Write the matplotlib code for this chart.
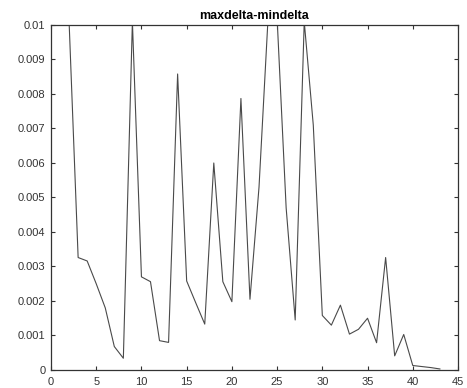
import matplotlib
matplotlib.use("Agg")
import matplotlib.pyplot as plt

# data (index vs maxdelta-mindelta)
x_idx = list(range(2, 44))
delta = [
    0.0101, 0.00326, 0.00316, 0.0025, 0.0018, 0.00068, 0.00034, 0.0101,   # 2-9
    0.0027, 0.00256, 0.00085, 0.0008, 0.00858, 0.00258, 0.00195, 0.00133,  # 10-17
    0.0060, 0.00256, 0.00198, 0.00787, 0.00205, 0.0053, 0.0102, 0.0102,    # 18-25
    0.0047, 0.00145, 0.0101, 0.0071, 0.00158, 0.0013, 0.00188, 0.00104,    # 26-33
    0.00118, 0.0015, 0.00079, 0.00326, 0.00041, 0.00103, 0.00013, 0.0001,  # 34-41
    0.00007, 0.00003,                                                      # 42-43
]

x_ticks = list(range(0, 46, 5))
y_ticks = [i / 1000 for i in range(0, 11)]
y_labels = ["0", "0.001", "0.002", "0.003", "0.004", "0.005",
            "0.006", "0.007", "0.008", "0.009", "0.01"]

plt.rcParams["font.family"] = ["Liberation Sans", "DejaVu Sans"]

fig = plt.figure(figsize=(4.67, 3.88), dpi=100)
ax = fig.add_axes([0.1092, 0.0464, 0.8715, 0.8892])

ax.plot(x_idx, delta, color="#4a4a4a", linewidth=0.8)

ax.set_xlim(0, 45)
ax.set_ylim(0, 0.01)
ax.set_xticks(x_ticks)
ax.set_xticklabels([str(t) for t in x_ticks])
ax.set_yticks(y_ticks)
ax.set_yticklabels(y_labels)

ax.tick_params(direction="in", length=3, width=0.8, top=True, right=True,
               labelsize=8, colors="#333333")
ax.tick_params(axis="x", pad=5)
ax.tick_params(axis="y", pad=4)
for s in ax.spines.values():
    s.set_color("#333333")
    s.set_linewidth(0.9)

ax.set_title("maxdelta-mindelta", fontsize=9, fontweight="bold", pad=4)

fig.savefig("out.png", dpi=100)
